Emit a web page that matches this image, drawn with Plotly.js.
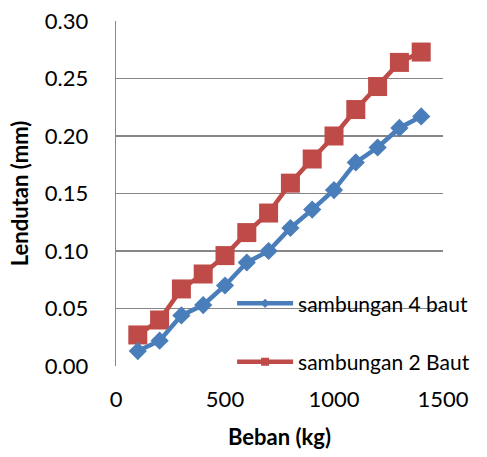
<!DOCTYPE html>
<html>
<head>
<meta charset="utf-8">
<script src="https://cdn.plot.ly/plotly-3.0.1.min.js"></script>
<style>html,body{margin:0;padding:0;background:#fff;}#chart{width:487px;height:457px;}</style>
</head>
<body>
<div id="chart"></div>
<script>
const beban = [100, 200, 300, 400, 500, 600, 700, 800, 900, 1000, 1100, 1200, 1300, 1400];
const baut4 = [0.013, 0.022, 0.044, 0.053, 0.070, 0.090, 0.100, 0.120, 0.136, 0.153, 0.177, 0.190, 0.207, 0.217];
const baut2 = [0.027, 0.040, 0.067, 0.080, 0.096, 0.116, 0.133, 0.159, 0.180, 0.200, 0.223, 0.243, 0.264, 0.273];
const names = ['sambungan 4 baut', 'sambungan 2 Baut'];
const xTicks = [0, 500, 1000, 1500];
const yTicks = [0, 0.05, 0.10, 0.15, 0.20, 0.25, 0.30];

const BLUE = '#4A7EBB', RED = '#BE4B48';
const FONT = 'Lato, "Open Sans", sans-serif';

const traces = [
  {x: beban, y: baut2, mode: 'lines+markers', showlegend: false,
   line: {color: RED, width: 4.5}, marker: {symbol: 'square', size: 19, color: RED}},
  {x: beban, y: baut4, mode: 'lines+markers', showlegend: false,
   line: {color: BLUE, width: 4.5}, marker: {symbol: 'diamond', size: 14, color: BLUE}},
  {x: [null], y: [null], name: names[0], legendgroup: 'a', mode: 'lines+markers',
   line: {color: BLUE, width: 4.5}, marker: {symbol: 'diamond', size: 7, color: BLUE}},
  {x: [null], y: [null], name: names[1], legendgroup: 'b', mode: 'lines+markers',
   line: {color: RED, width: 4.5}, marker: {symbol: 'square', size: 8, color: RED}}
];

const layout = {
  width: 487, height: 457,
  margin: {l: 116, r: 29, t: 21, b: 91},
  paper_bgcolor: '#fff', plot_bgcolor: '#fff',
  font: {family: FONT, size: 22, color: '#000'},
  xaxis: {
    range: [0, 1500], tickvals: xTicks, ticktext: xTicks.map(String),
    showgrid: false, zeroline: false, showline: false,
    ticks: 'outside', ticklen: 14, tickcolor: 'rgba(0,0,0,0)',
    tickfont: {size: 22},
    title: {text: '<b>Beban (kg)</b>', font: {size: 22}, standoff: 18}
  },
  yaxis: {
    range: [0, 0.30], tickvals: yTicks, ticktext: yTicks.map(v => v.toFixed(2)),
    showgrid: true, gridcolor: '#878787', gridwidth: 1.3,
    zeroline: false, showline: true, linecolor: '#878787', linewidth: 1.3,
    ticks: 'outside', ticklen: 22, tickcolor: 'rgba(0,0,0,0)',
    tickfont: {size: 22},
    title: {text: '<b>Lendutan (mm)</b>', font: {size: 22}, standoff: 10}
  },
  legend: {
    x: 0.355, y: 0.24, xanchor: 'left', yanchor: 'top',
    bgcolor: 'rgba(0,0,0,0)', itemwidth: 56, tracegroupgap: 28,
    font: {size: 21}
  }
};

Plotly.newPlot('chart', traces, layout, {displayModeBar: false, staticPlot: true});
</script>
</body>
</html>
